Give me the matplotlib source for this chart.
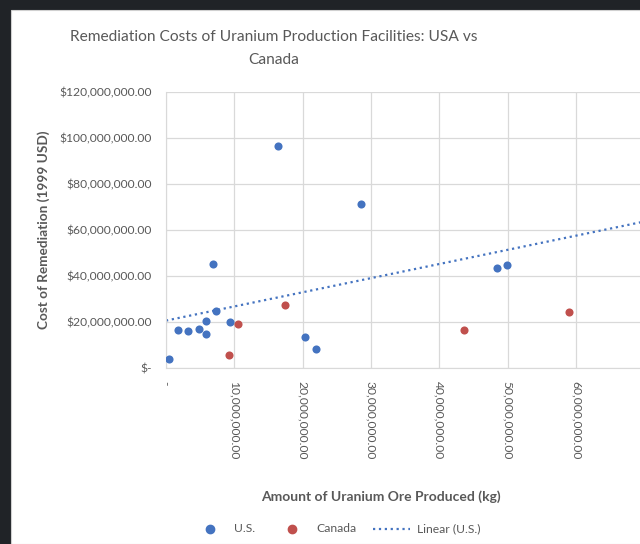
import matplotlib
matplotlib.use('Agg')
import matplotlib.pyplot as plt
import numpy as np
from matplotlib.ticker import FuncFormatter
from matplotlib.lines import Line2D
from matplotlib.patches import Rectangle

plt.rcParams['font.family'] = ['Lato', 'DejaVu Sans']

# ore produced (kg) and remediation cost (1999 USD)
us_ore = [0.44e6, 1.8e6, 3.2e6, 4.8e6, 5.8e6, 5.9e6, 6.9e6, 7.3e6, 9.3e6,
          16.35e6, 20.35e6, 21.9e6, 28.5e6, 48.4e6, 49.9e6]
us_cost = [3.9e6, 16.7e6, 16.1e6, 17.2e6, 15.0e6, 20.6e6, 45.2e6, 25.0e6, 20.0e6,
           96.5e6, 13.7e6, 8.5e6, 71.4e6, 43.7e6, 44.9e6]
ca_ore = [9.2e6, 10.5e6, 17.4e6, 43.6e6, 59.0e6]
ca_cost = [5.6e6, 19.4e6, 27.5e6, 16.7e6, 24.3e6]

# Excel "Linear (U.S.)" trendline
trend_slope = 0.614
trend_intercept = 20.7e6

blue = '#4473C0'
red = '#C0504D'
grey = '#595959'

W, H = 640, 544
fig = plt.figure(figsize=(W / 100, H / 100), dpi=100, facecolor='#202327')
# white chart panel (screenshot is cropped on the right and bottom)
fig.patches.append(Rectangle((11 / W, 0), 1, 1 - 10 / H, transform=fig.transFigure,
                             facecolor='white', edgecolor='#d0d0d0', lw=0.8, zorder=-5))

xmax = 80e6
px_per_unit = (507.7 - 166) / 50e6
ax_left, ax_bottom, ax_top = 166, 368.3, 91.7
ax_w = xmax * px_per_unit
ax = fig.add_axes([ax_left / W, 1 - ax_bottom / H, ax_w / W, (ax_bottom - ax_top) / H])
ax.set_facecolor('white')
ax.set_zorder(1)

ax.scatter(us_ore, us_cost, s=34, color=blue, zorder=3, linewidths=0)
ax.scatter(ca_ore, ca_cost, s=34, color=red, zorder=3, linewidths=0)

xt = np.array([0, xmax])
ax.plot(xt, trend_slope * xt + trend_intercept, color=blue, ls=':', lw=1.6, zorder=2)

ax.set_xlim(0, xmax)
ax.set_ylim(0, 120e6)
ax.set_xticks(np.arange(0, xmax + 1, 10e6))
ax.set_yticks(np.arange(0, 120e6 + 1, 20e6))
ax.grid(True, color='#d9d9d9', lw=0.9)
ax.set_axisbelow(True)
for s in ax.spines.values():
    s.set_visible(False)
ax.spines['bottom'].set_visible(True)
ax.spines['bottom'].set_color('#d9d9d9')
ax.spines['left'].set_visible(True)
ax.spines['left'].set_color('#d9d9d9')

ax.yaxis.set_major_formatter(FuncFormatter(lambda v, p: '$-' if v == 0 else f'${v:,.2f}'))
ax.xaxis.set_major_formatter(FuncFormatter(lambda v, p: '-' if v == 0 else f'{v:,.2f}'))
ax.tick_params(axis='y', length=0, pad=10, labelsize=8.7, labelcolor=grey)
ax.tick_params(axis='x', length=0, pad=9, labelsize=8.7, labelcolor=grey, labelrotation=-90)

fig.text(274 / W, 1 - 37 / H, 'Remediation Costs of Uranium Production Facilities: USA vs',
         ha='center', va='center', fontsize=11.2, color=grey)
fig.text(274 / W, 1 - 60 / H, 'Canada', ha='center', va='center', fontsize=11.2, color=grey)

fig.text(44 / W, 1 - 230 / H, 'Cost of Remediation (1999 USD)', rotation=90,
         ha='center', va='center', fontsize=9.8, fontweight='bold', color=grey)
fig.text(381 / W, 1 - 497 / H, 'Amount of Uranium Ore Produced (kg)',
         ha='center', va='center', fontsize=10, fontweight='bold', color=grey)

# legend, laid out like Excel's
ly = 1 - 529 / H
fig.add_artist(Line2D([210 / W], [ly], ls='none', marker='o', ms=6, color=blue))
fig.text(234 / W, ly, 'U.S.', ha='left', va='center', fontsize=8.7, color=grey)
fig.add_artist(Line2D([291.7 / W], [ly], ls='none', marker='o', ms=6, color=red))
fig.text(316 / W, ly, 'Canada', ha='left', va='center', fontsize=8.7, color=grey)
fig.add_artist(Line2D([373 / W, 410 / W], [ly, ly], ls=':', lw=1.6, color=blue))
fig.text(417 / W, ly, 'Linear (U.S.)', ha='left', va='center', fontsize=8.7, color=grey)

fig.savefig('out.png', dpi=100, facecolor=fig.get_facecolor())
